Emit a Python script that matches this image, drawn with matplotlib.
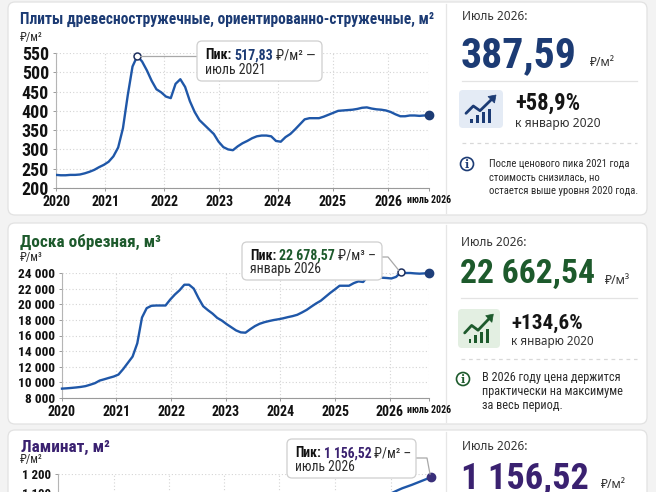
import matplotlib
matplotlib.use('Agg')
import matplotlib.pyplot as plt
from matplotlib.patches import FancyBboxPatch, Rectangle, Circle, Polygon
from matplotlib import font_manager as fm

# ---------------- data ----------------
years = ['2020', '2021', '2022', '2023', '2024', '2025', '2026']
end_label = 'июль 2026'
month_idx = list(range(79))   # Jan 2020 .. Jul 2026

pdsp_values = [234, 233, 233, 234, 234, 235, 238, 242, 247, 254,
               260, 268, 282, 305, 355, 440, 515, 542, 528, 505,
               478, 456, 448, 437, 433, 470, 482, 462, 425, 397,
               376, 364, 352, 340, 320, 306, 300, 298, 308, 316,
               322, 329, 334, 336, 336, 334, 322, 320, 332, 340,
               352, 365, 378, 381, 381, 381, 385, 390, 395, 400,
               401, 402, 403, 405, 408, 409, 406, 404, 403, 401,
               397, 391, 386, 386, 388, 388, 387, 388, 388]
pdsp_peak_i = 17
pdsp_ticks = [200, 250, 300, 350, 400, 450, 500, 550]

doska_values = [9200, 9240, 9290, 9350, 9420, 9520, 9700, 9900, 10230, 10400,
                10580, 10750, 11000, 11700, 12500, 13300, 15000, 18300, 19500, 19800,
                19840, 19840, 19840, 20600, 21250, 21800, 22500, 22500, 22000, 20800,
                19750, 19250, 18800, 18250, 17900, 17450, 17050, 16650, 16400, 16360,
                16800, 17200, 17500, 17700, 17850, 17980, 18080, 18200, 18350, 18480,
                18650, 18950, 19280, 19700, 20100, 20450, 20950, 21450, 21900, 22370,
                22370, 22370, 22700, 22930, 22850, 23575, 23450, 23440, 23400, 23360,
                23300, 23500, 24090, 24000, 24000, 23950, 23915, 23950, 24000]
doska_peak_i = 72
doska_ticks = [8000, 10000, 12000, 14000, 16000, 18000, 20000, 22000, 24000]

laminat_idx = [69, 70, 71, 72, 73, 74, 75, 76, 77, 78]
laminat_values = [1092, 1102, 1114, 1125, 1134, 1143, 1153, 1163, 1173, 1184]
laminat_ticks = [500, 600, 700, 800, 900, 1000, 1100, 1200]

# ---------------- fonts ----------------
pref = ['Liberation Sans Narrow', 'Roboto Condensed', 'Open Sans Condensed', 'Noto Sans Condensed',
        'Noto Sans SemiCondensed', 'DejaVu Sans Condensed']
names = {f.name for f in fm.fontManager.ttflist}
NFAM, NSTRETCH = 'DejaVu Sans', 'normal'
found = False
for p in pref:
    if p in names:
        NFAM, NSTRETCH, found = p, 'normal', True
        break
if not found:
    for f in fm.fontManager.ttflist:
        st = str(f.stretch)
        if st in ('condensed', 'semi-condensed', 'extra-condensed') or (
                isinstance(f.stretch, int) and f.stretch < 500):
            NFAM, NSTRETCH, found = f.name, f.stretch, True
            break

NARROW = dict(family=[NFAM, 'DejaVu Sans'], stretch=NSTRETCH)
REG = dict(family=['Noto Sans', 'DejaVu Sans'])

NAVY = '#1c3b74'
GREEN = '#1d5a2c'
PURPLE = '#3a2170'
LINE = '#1f57a8'
GRID = '#d4d4d4'
TXT = '#2b2b2b'

W, H = 656, 492
fig = plt.figure(figsize=(W / 100, H / 100), dpi=100, facecolor='#f3f3f3')

bg = fig.add_axes([0, 0, 1, 1], zorder=0)
bg.set_xlim(0, W); bg.set_ylim(H, 0); bg.axis('off')
fg = fig.add_axes([0, 0, 1, 1], zorder=3)
fg.set_xlim(0, W); fg.set_ylim(H, 0); fg.axis('off'); fg.patch.set_alpha(0)

renderer = fig.canvas.get_renderer()


def width(t):
    return t.get_window_extent(renderer).width


def fit(t, target):
    t.set_fontsize(t.get_fontsize() * target / width(t))
    return t


def measure_size(s, target, **kw):
    t = fg.text(0, 0, s, fontsize=10, **kw)
    size = 10 * target / width(t)
    t.remove()
    return size


def T(x, y, s, target=None, **kw):
    kw.setdefault('ha', 'left')
    kw.setdefault('va', 'center')
    t = fg.text(x, y, s, **kw)
    if target:
        fit(t, target)
    return t


def card(y0, y1):
    bg.add_patch(FancyBboxPatch((8, y0), 639, y1 - y0, boxstyle='round,pad=0,rounding_size=7',
                                fc='white', ec='#e2e2e2', lw=0.9))
    bg.plot([446, 446], [y0 + 2, y1 - 2], color='#e6e6e6', lw=0.9)


card(2, 215)
card(223, 424)
card(430, 560)

XT_SIZE = measure_size('2020', 28, fontweight='bold', **NARROW)
END_SIZE = measure_size(end_label, 44, fontweight='bold', **NARROW)


def px_axes(l, t, r, b):
    ax = fig.add_axes([l / W, 1 - b / H, (r - l) / W, (b - t) / H], zorder=1)
    ax.patch.set_alpha(0)
    return ax


def style_axes(ax, yticks, ylabels, ysize, xt_pos, show_x=True):
    for s in ['top', 'right']:
        ax.spines[s].set_visible(False)
    ax.spines['left'].set_color('#b5b5b5')
    ax.spines['bottom'].set_color('#9a9a9a')
    ax.spines['left'].set_linewidth(0.8)
    ax.spines['bottom'].set_linewidth(0.8)
    ax.set_yticks(yticks, ylabels, fontsize=ysize, fontweight='bold', color='#111111', **NARROW)
    pos = list(xt_pos) + [78]
    labs = list(years) + [end_label]
    ax.set_xticks(pos, labs, fontsize=XT_SIZE, fontweight='bold', color='#111111', **NARROW)
    ax.get_xticklabels()[-1].set_fontsize(END_SIZE)
    ax.tick_params(axis='both', length=2.5, width=0.7, color='#9a9a9a', pad=2.5)
    ax.grid(True, color=GRID, linestyle=(0, (1, 2)), linewidth=0.8)
    ax.set_axisbelow(True)
    ax.set_xlim(0, 78)
    if not show_x:
        ax.tick_params(axis='x', labelbottom=False)


def fmt(v):
    return f'{v:,}'.replace(',', ' ')


def to_px(ax, x, y):
    d = ax.transData.transform((x, y))
    return fg.transData.inverted().transform(d)


def rich(x, y, pieces, target):
    texts = []
    for s, kw, gap in pieces:
        texts.append((fg.text(x, y, s, ha='left', va='center', fontsize=10, **kw), gap))
    gaps = sum(g for t, g in texts)
    total = sum(width(t) for t, g in texts)
    f = (target - gaps) / total
    cur = x
    for t, g in texts:
        t.set_fontsize(10 * f)
        t.set_x(cur)
        cur += width(t) + g
    return 10 * f


def callout(x0, y0, x1, y1, pieces, line2, target):
    fg.add_patch(FancyBboxPatch((x0, y0), x1 - x0, y1 - y0, boxstyle='round,pad=0,rounding_size=5',
                                fc='white', ec='#cfcfcf', lw=0.9, zorder=5))
    h = y1 - y0
    size = rich(x0 + 8, y0 + h * 0.36, pieces, target)
    fg.text(x0 + 8, y0 + h * 0.72, line2, ha='left', va='center', fontsize=size,
            color=TXT, zorder=6, **NARROW)


def callout_pieces(val, color, unit):
    return [('Пик:', dict(fontweight='bold', color='#111111', zorder=6, **NARROW), 3),
            (val, dict(fontweight='bold', color=color, zorder=6, **NARROW), 3),
            (unit, dict(color=TXT, zorder=6, **NARROW), 0)]


def icon(x0, y0, w, h, bgc, c):
    fg.add_patch(FancyBboxPatch((x0, y0), w, h, boxstyle='round,pad=0,rounding_size=4', fc=bgc, ec='none'))
    sx, sy = w / 44.0, h / 38.0
    bars = [(11, 29.3), (16.7, 25), (22.7, 22), (29.3, 19.3)]
    for bx, top in bars:
        fg.add_patch(Rectangle((x0 + bx * sx, y0 + top * sy), 3 * sx, (33.3 - top) * sy, fc=c, ec='none'))
    pts = [(7, 23.3), (14.3, 16), (21, 20.7), (33.0, 9.0)]
    fg.plot([x0 + p[0] * sx for p in pts], [y0 + p[1] * sy for p in pts], color=c, lw=2.0,
            solid_capstyle='round', solid_joinstyle='round')
    tip = (x0 + 37 * sx, y0 + 5 * sy)
    fg.add_patch(Polygon([tip, (x0 + 29 * sx, y0 + 6.5 * sy), (x0 + 35.5 * sx, y0 + 13 * sy)],
                         closed=True, fc=c, ec=c, lw=0.5))


def info(cx, cy, c, lines, tx, ty0, dy, target):
    fg.add_patch(Circle((cx, cy), 6.5, fc='none', ec=c, lw=1.2))
    fg.text(cx, cy + 0.5, 'i', ha='center', va='center', fontsize=8, fontweight='bold',
            family=['DejaVu Serif'], color=c)
    longest = max(lines, key=len)
    size = measure_size(longest, target, **NARROW)
    for k, s in enumerate(lines):
        fg.text(tx, ty0 + k * dy, s, ha='left', va='center', fontsize=size, color=TXT, **NARROW)


def panel(x, y_head, y_base, num, num_w, color, unit, unit_gap, unit_y):
    T(x, y_head, 'Июль 2026:', 65, color='#333333', **REG)
    t = T(x - 1, y_base, num, num_w, va='baseline', fontweight='bold', color=color, **NARROW)
    ex = t.get_window_extent(renderer)
    xr = fg.transData.inverted().transform((ex.x1, ex.y0))[0]
    T(xr + unit_gap, unit_y, unit, 25, color='#333333', **REG)


# ---------------- chart 1 ----------------
T(20, 24, 'Плиты древесностружечные, ориентированно-стружечные, м²', 416, va='baseline',
  fontweight='bold', color=NAVY, **NARROW)
T(20, 38, '₽/м²', 23, color=TXT, **NARROW)
ax1 = px_axes(56, 53, 429, 188)
ax1.plot(month_idx, pdsp_values, color=LINE, lw=1.7, solid_joinstyle='round', zorder=3)
style_axes(ax1, pdsp_ticks, [str(v) for v in pdsp_ticks],
           measure_size('550', 27, fontweight='bold', **NARROW),
           [0, 10.3, 22.6, 34.1, 46.4, 57.9, 69.5])
ax1.set_ylim(200, 550)
ax1.plot([pdsp_peak_i], [pdsp_values[pdsp_peak_i]], 'o', ms=5, mfc='white', mec='#1d2f5e', mew=1.1,
         zorder=4, clip_on=False)
ax1.plot([78], [pdsp_values[-1]], 'o', ms=6, mfc=NAVY, mec=NAVY, zorder=4, clip_on=False)
p = to_px(ax1, pdsp_peak_i, pdsp_values[pdsp_peak_i])
fg.plot([p[0] + 3, 197], [p[1], p[1]], color='#a8a8a8', lw=0.9, zorder=4)
callout(197, 41, 322, 81, callout_pieces('517,83', NAVY, '₽/м² —'), 'июль 2021', 111)

panel(462, 17, 67, '387,59', 116, NAVY, '₽/м²', 13, 62)
fg.plot([462, 637], [81, 81], color='#e3e3e3', lw=0.9)
icon(459, 90, 44, 38, '#e4ebf5', NAVY)
T(515, 103, '+58,9%', 65, fontweight='bold', color='#151515', **NARROW)
T(515, 123, 'к январю 2020', 85, color='#333333', **REG)
fg.plot([462, 637], [143, 143], color='#d8d8d8', lw=0.9, linestyle=(0, (3, 3)))
info(467, 164, NAVY, ['После ценового пика 2021 года', 'стоимость снизилась, но',
                      'остается выше уровня 2020 года.'], 489, 163, 14, 148)

# ---------------- chart 2 ----------------
T(20, 247, 'Доска обрезная, м³', 140, va='baseline', fontweight='bold', color=GREEN, **NARROW)
T(20, 258, '₽/м³', 23, color=TXT, **NARROW)
ax2 = px_axes(62, 273, 429, 398)
ax2.plot(month_idx, doska_values, color=LINE, lw=1.7, solid_joinstyle='round', zorder=3, clip_on=False)
style_axes(ax2, doska_ticks, [fmt(v) for v in doska_ticks],
           measure_size('24 000', 37, fontweight='bold', **NARROW),
           [0, 11.5, 23.2, 34.8, 46.4, 58.1, 69.7])
ax2.set_ylim(8000, 24000)
ax2.plot([doska_peak_i], [doska_values[doska_peak_i]], 'o', ms=5, mfc='white', mec='#1d2f5e', mew=1.1,
         zorder=4, clip_on=False)
ax2.plot([78], [doska_values[-1]], 'o', ms=6, mfc='#1f3f7a', mec='#1f3f7a', zorder=4, clip_on=False)
p = to_px(ax2, doska_peak_i, doska_values[doska_peak_i])
fg.plot([382, 388, p[0] - 2], [257, 257, p[1] - 2], color='#a8a8a8', lw=0.9, zorder=4)
callout(242, 242, 382, 280, callout_pieces('22 678,57', GREEN, '₽/м³ –'), 'январь 2026', 126)

panel(461, 243, 283, '22 662,54', 135, GREEN, '₽/м³', 10, 280)
fg.plot([461, 637], [298, 298], color='#e3e3e3', lw=0.9)
icon(458, 309, 42, 39, '#e3efe2', GREEN)
T(511, 323, '+134,6%', 72, fontweight='bold', color='#151515', **NARROW)
T(511, 342, 'к январю 2020', 82, color='#333333', **REG)
fg.plot([461, 637], [359, 359], color='#d8d8d8', lw=0.9, linestyle=(0, (3, 3)))
info(463, 379, GREEN, ['В 2026 году цена держится', 'практически на максимуме',
                       'за весь период.'], 482, 377, 14.5, 138)

# ---------------- chart 3 ----------------
T(21, 452, 'Ламинат, м²', 89, va='baseline', fontweight='bold', color=PURPLE, **NARROW)
T(20, 460, '₽/м²', 23, color=TXT, **NARROW)
ax3 = px_axes(58, 474, 431, 607)
ax3.plot(laminat_idx, laminat_values, color=LINE, lw=1.7, solid_joinstyle='round', zorder=3)
style_axes(ax3, laminat_ticks, [fmt(v) for v in laminat_ticks],
           measure_size('1 200', 29, fontweight='bold', **NARROW),
           [0, 11.7, 23.2, 34.7, 46.2, 57.9, 69.7], show_x=False)
ax3.set_ylim(500, 1200)
ax3.plot([78], [laminat_values[-1]], 'o', ms=6, mfc='#3a2f7a', mec='#3a2f7a', zorder=4, clip_on=False)
p = to_px(ax3, 78, laminat_values[-1])
fg.plot([416, 427, p[0] - 1], [458, 458, p[1] - 3], color='#a8a8a8', lw=0.9, zorder=4)
callout(287, 439, 416, 478, callout_pieces('1 156,52', PURPLE, '₽/м² –'), 'июль 2026', 117)

panel(462, 447, 489, '1 156,52', 128, PURPLE, '₽/м²', 12, 484)

fig.savefig('out.png', dpi=100, facecolor=fig.get_facecolor())
